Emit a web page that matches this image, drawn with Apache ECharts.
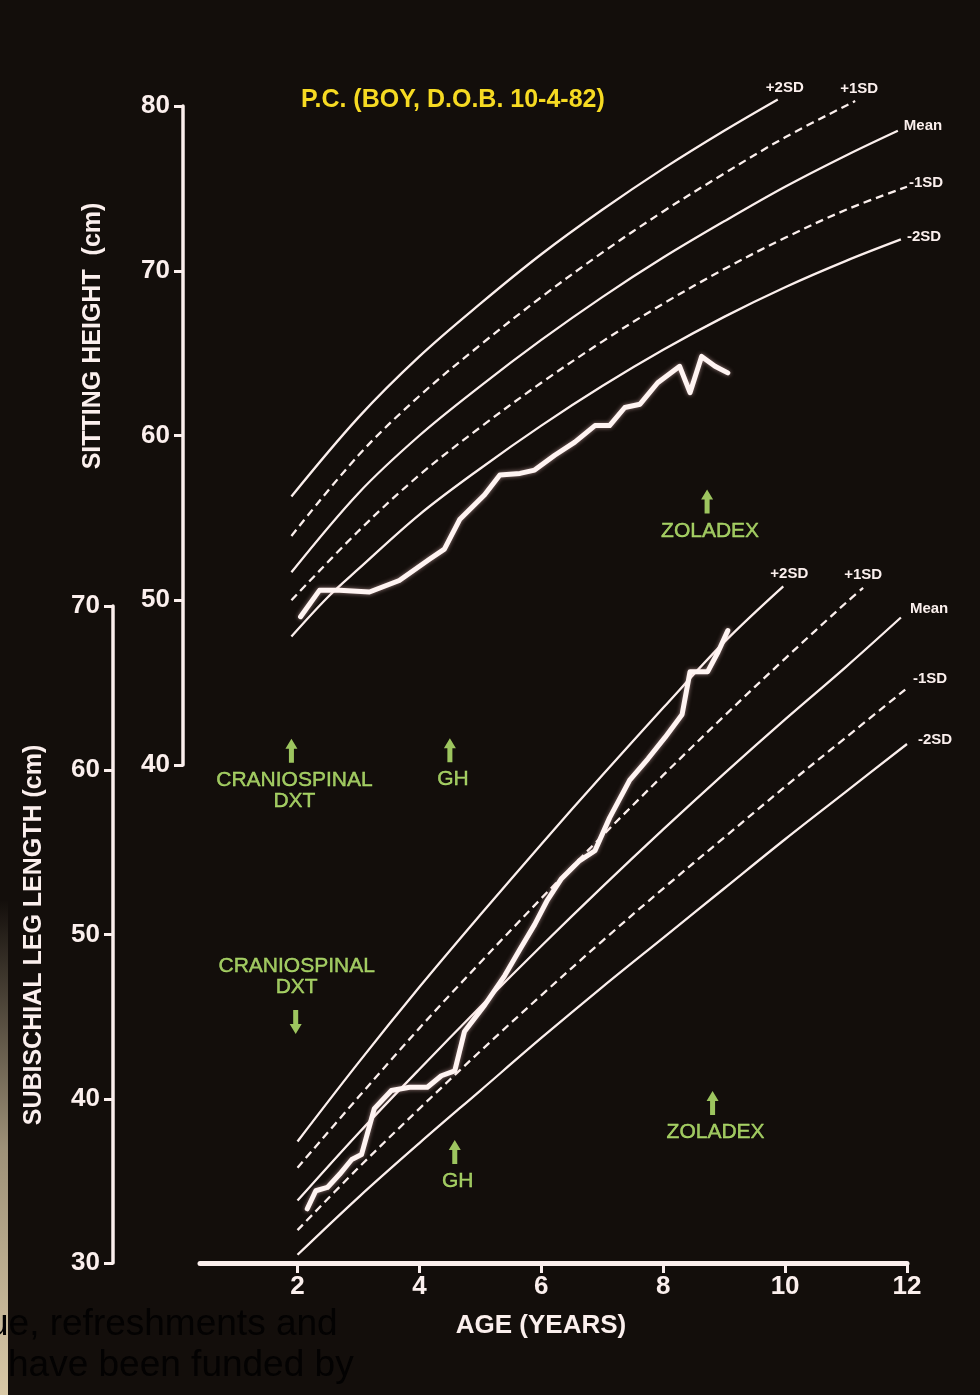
<!DOCTYPE html>
<html>
<head>
<meta charset="utf-8">
<title>P.C. growth chart</title>
<script src="https://cdn.jsdelivr.net/npm/echarts@6/dist/echarts.min.js"></script>
<style>
  html, body { margin: 0; padding: 0; background: #130e0b; }
  #chart { width: 980px; height: 1395px; }
</style>
</head>
<body>
<div id="chart"></div>
<script>
// ---- Sitting height (cm): reference centiles, [age, cm] ----
const sitPlus2SD  = [[1.9,56.3],[3,61.1],[4,64.8],[5,68.0],[6,71.0],[7,73.7],[8,76.2],[9,78.5],[9.88,80.4]];
const sitPlus1SD  = [[1.9,53.9],[3,58.8],[4,62.4],[5,65.5],[6,68.4],[7,71.1],[8,73.6],[9,75.9],[10,78.1],[11.15,80.3]];
const sitMean     = [[1.9,51.7],[3,56.5],[4,60.0],[5,63.0],[6,65.8],[7,68.4],[8,70.8],[9,73.0],[10,75.1],[11,77.0],[11.85,78.5]];
const sitMinus1SD = [[1.9,50.0],[3,54.2],[4,57.6],[5,60.5],[6,63.2],[7,65.7],[8,68.0],[9,70.1],[10,72.0],[11,73.7],[12,75.1]];
const sitMinus2SD = [[1.9,47.8],[2.5,50.2],[3,51.9],[4,55.2],[5,58.0],[6,60.6],[7,63.0],[8,65.2],[9,67.2],[10,69.0],[11,70.6],[11.9,71.9]];

// Patient's sitting height measurements
const sitPatient = [[2.05,49.0],[2.36,50.6],[2.69,50.6],[3.18,50.5],[3.67,51.2],[4.17,52.5],[4.41,53.1],[4.66,54.9],
  [5.07,56.4],[5.32,57.6],[5.65,57.7],[5.89,57.9],[6.22,58.8],[6.55,59.6],[6.88,60.6],[7.12,60.6],[7.37,61.7],
  [7.62,61.9],[7.91,63.2],[8.27,64.2],[8.44,62.6],[8.63,64.8],[8.85,64.2],[9.06,63.8]];

// ---- Subischial leg length (cm): reference centiles ----
const legPlus2SD  = [[2,37.4],[3,42.2],[4,46.8],[5,51.2],[6,55.5],[7,59.7],[8,63.8],[9,67.8],[9.97,71.2]];
const legPlus1SD  = [[2,35.8],[3,40.1],[4,44.3],[5,48.3],[6,52.2],[7,56.0],[8,59.7],[9,63.3],[10,66.8],[11,70.2],[11.28,71.1]];
const legMean     = [[2,33.8],[3,37.9],[4,41.8],[5,45.6],[6,49.3],[7,52.9],[8,56.4],[9,59.8],[10,63.1],[11,66.3],[11.9,69.3]];
const legMinus1SD = [[2,32.0],[3,35.8],[4,39.4],[5,42.9],[6,46.3],[7,49.6],[8,52.8],[9,55.9],[10,59.0],[11,62.0],[12,65.0]];
const legMinus2SD = [[2,30.5],[3,34.0],[4,37.3],[5,40.5],[6,43.7],[7,46.8],[8,49.8],[9,52.8],[10,55.8],[11,58.7],[12,61.6]];

// Patient's leg length measurements
const legPatient = [[2.16,33.3],[2.30,34.4],[2.49,34.6],[2.69,35.4],[2.89,36.3],[3.05,36.6],[3.26,39.4],[3.54,40.5],
  [3.84,40.7],[4.13,40.7],[4.36,41.4],[4.58,41.7],[4.74,44.1],[5.07,45.7],[5.40,47.5],[5.65,49.1],[5.89,50.6],
  [6.10,52.1],[6.33,53.4],[6.63,54.5],[6.88,55.1],[7.12,57.1],[7.45,59.4],[7.75,60.7],[8.03,62.0],[8.31,63.4],
  [8.44,66.0],[8.73,66.0],[8.90,67.2],[9.06,68.5]];

// Axis ticks and labels
const ageTicks = [2, 4, 6, 8, 10, 12];
const centileNames = ['+2SD', '+1SD', 'Mean', '-1SD', '-2SD'];

// Treatment events: [label, age, level on the panel, arrow direction]
const sitEvents = [['CRANIOSPINAL\nDXT', 1.9, 40.86, 'up'], ['GH', 4.5, 40.9, 'up'], ['ZOLADEX', 8.72, 56.0, 'up']];
const legEvents = [['CRANIOSPINAL\nDXT', 1.97, 44.67, 'down'], ['GH', 4.58, 36.76, 'up'], ['ZOLADEX', 8.81, 39.74, 'up']];

const INK = '#fbefed';
const GREEN = '#c0f474';
const YELLOW = '#f6da22';
const FONT = 'Liberation Sans, Arial, sans-serif';

const chart = echarts.init(document.getElementById('chart'));

function centile(data, grid, name, dashed, labelOpt) {
  return {
    type: 'line', xAxisIndex: grid, yAxisIndex: grid, data: data,
    smooth: 0.35, symbol: 'none', clip: false, silent: true,
    lineStyle: { color: INK, width: 2.3, type: dashed ? [8, 5] : 'solid', cap: 'butt' },
    endLabel: Object.assign({
      show: true, formatter: name, color: INK, fontFamily: FONT, fontWeight: 'bold',
      fontSize: 15, distance: 0, verticalAlign: 'middle'
    }, labelOpt),
    z: 3
  };
}

function patient(data, grid) {
  return {
    type: 'line', xAxisIndex: grid, yAxisIndex: grid, data: data,
    symbol: 'none', clip: false, silent: true,
    lineStyle: { color: '#fff4f2', width: 5, join: 'round', cap: 'round',
      shadowColor: 'rgba(255,210,210,0.55)', shadowBlur: 4 },
    z: 5
  };
}

const arrowPath = 'path://M6,0 L12,10 L8.5,10 L8.5,24 L3.5,24 L3.5,10 L0,10 Z';

function events(list, grid) {
  return {
    type: 'scatter', xAxisIndex: grid, yAxisIndex: grid, clip: false, silent: true,
    symbol: arrowPath, symbolSize: [12, 24],
    itemStyle: { color: GREEN },
    data: list.map(e => ({
      value: [e[1], e[2]],
      symbolRotate: e[3] === 'down' ? 180 : 0,
      label: {
        show: true, formatter: e[0], position: e[3] === 'down' ? 'top' : 'bottom',
        distance: e[3] === 'down' ? 12 : 7, offset: [e[3] === 'down' ? 1 : 3, 0],
        color: GREEN, fontFamily: FONT, fontSize: 21, lineHeight: 21, align: 'center',
        textBorderColor: GREEN, textBorderWidth: 0.4
      }
    })),
    z: 4
  };
}

const axisLabelStyle = { color: INK, fontFamily: FONT, fontWeight: 'bold', fontSize: 26 };

const option = {
  backgroundColor: '#130e0b',
  animation: false,
  title: {
    text: 'P.C. (BOY, D.O.B. 10-4-82)', left: 296, top: 83,
    textStyle: { color: YELLOW, fontFamily: FONT, fontWeight: 'bold', fontSize: 25 }
  },
  grid: [
    { left: 200, right: 73, top: 106, height: 659 },
    { left: 200, right: 73, top: 606, height: 657 }
  ],
  xAxis: [
    { gridIndex: 0, type: 'value', min: 0.4, max: 12, show: false },
    { gridIndex: 1, type: 'value', min: 0.4, max: 12,
      axisLine: { show: true, onZero: false, lineStyle: { color: INK, width: 5, cap: 'round' } },
      axisTick: { show: true, customValues: ageTicks, length: 10, lineStyle: { color: INK, width: 3 } },
      axisLabel: Object.assign({ customValues: ageTicks, margin: 11 }, axisLabelStyle),
      splitLine: { show: false } }
  ],
  yAxis: [
    { gridIndex: 0, type: 'value', min: 40, max: 80, interval: 10, offset: 17,
      axisLine: { show: true, lineStyle: { color: INK, width: 3.5 } },
      axisTick: { show: true, inside: false, length: 9, lineStyle: { color: INK, width: 3 } },
      axisLabel: Object.assign({ margin: 13 }, axisLabelStyle),
      splitLine: { show: false } },
    { gridIndex: 1, type: 'value', min: 30, max: 70, interval: 10, offset: 87,
      axisLine: { show: true, lineStyle: { color: INK, width: 3.5 } },
      axisTick: { show: true, inside: false, length: 9, lineStyle: { color: INK, width: 3 } },
      axisLabel: Object.assign({ margin: 13 }, axisLabelStyle),
      splitLine: { show: false } }
  ],
  graphic: [
    { type: 'rect', shape: { x: 0, y: 900, width: 8, height: 495 }, silent: true, z: -1,
      style: { fill: new echarts.graphic.LinearGradient(0, 0, 0, 1, [
        { offset: 0, color: 'rgba(216,200,166,0)' }, { offset: 0.5, color: 'rgba(216,200,166,0.7)' },
        { offset: 1, color: '#d9c9a7' }]) } },
    { type: 'text', x: 93, y: 336, rotation: Math.PI / 2, silent: true,
      style: { text: 'SITTING HEIGHT  (cm)', fill: INK, font: 'bold 25px ' + FONT, align: 'center', verticalAlign: 'middle' } },
    { type: 'text', x: 34, y: 935, rotation: Math.PI / 2, silent: true,
      style: { text: 'SUBISCHIAL LEG LENGTH (cm)', fill: INK, font: 'bold 25px ' + FONT, align: 'center', verticalAlign: 'middle' } },
    { type: 'text', x: 541, y: 1326, silent: true,
      style: { text: 'AGE (YEARS)', fill: INK, font: 'bold 26px ' + FONT, align: 'center', verticalAlign: 'middle' } },
    { type: 'text', x: -12, y: 1325, silent: true, z: 10,
      style: { text: 'ue, refreshments and', fill: '#030202', font: '37px ' + FONT, align: 'left', verticalAlign: 'middle' } },
    { type: 'text', x: 8, y: 1366, silent: true, z: 10,
      style: { text: 'have been funded by', fill: '#030202', font: '37px ' + FONT, align: 'left', verticalAlign: 'middle' } }
  ],
  series: [
    centile(sitPlus2SD, 0, centileNames[0], false, { align: 'center', offset: [7, -12] }),
    centile(sitPlus1SD, 0, centileNames[1], true, { align: 'center', offset: [4, -12] }),
    centile(sitMean, 0, centileNames[2], false, { align: 'left', offset: [6, -5] }),
    centile(sitMinus1SD, 0, centileNames[3], true, { align: 'left', offset: [2, -4] }),
    centile(sitMinus2SD, 0, centileNames[4], false, { align: 'left', offset: [6, -3] }),
    patient(sitPatient, 0),
    events(sitEvents, 0),
    centile(legPlus2SD, 1, centileNames[0], false, { align: 'center', offset: [6, -12] }),
    centile(legPlus1SD, 1, centileNames[1], true, { align: 'center', offset: [0, -13] }),
    centile(legMean, 1, centileNames[2], false, { align: 'left', offset: [9, -9] }),
    centile(legMinus1SD, 1, centileNames[3], true, { align: 'left', offset: [6, -9] }),
    centile(legMinus2SD, 1, centileNames[4], false, { align: 'left', offset: [11, -4] }),
    patient(legPatient, 1),
    events(legEvents, 1)
  ]
};

chart.setOption(option);
</script>
</body>
</html>
